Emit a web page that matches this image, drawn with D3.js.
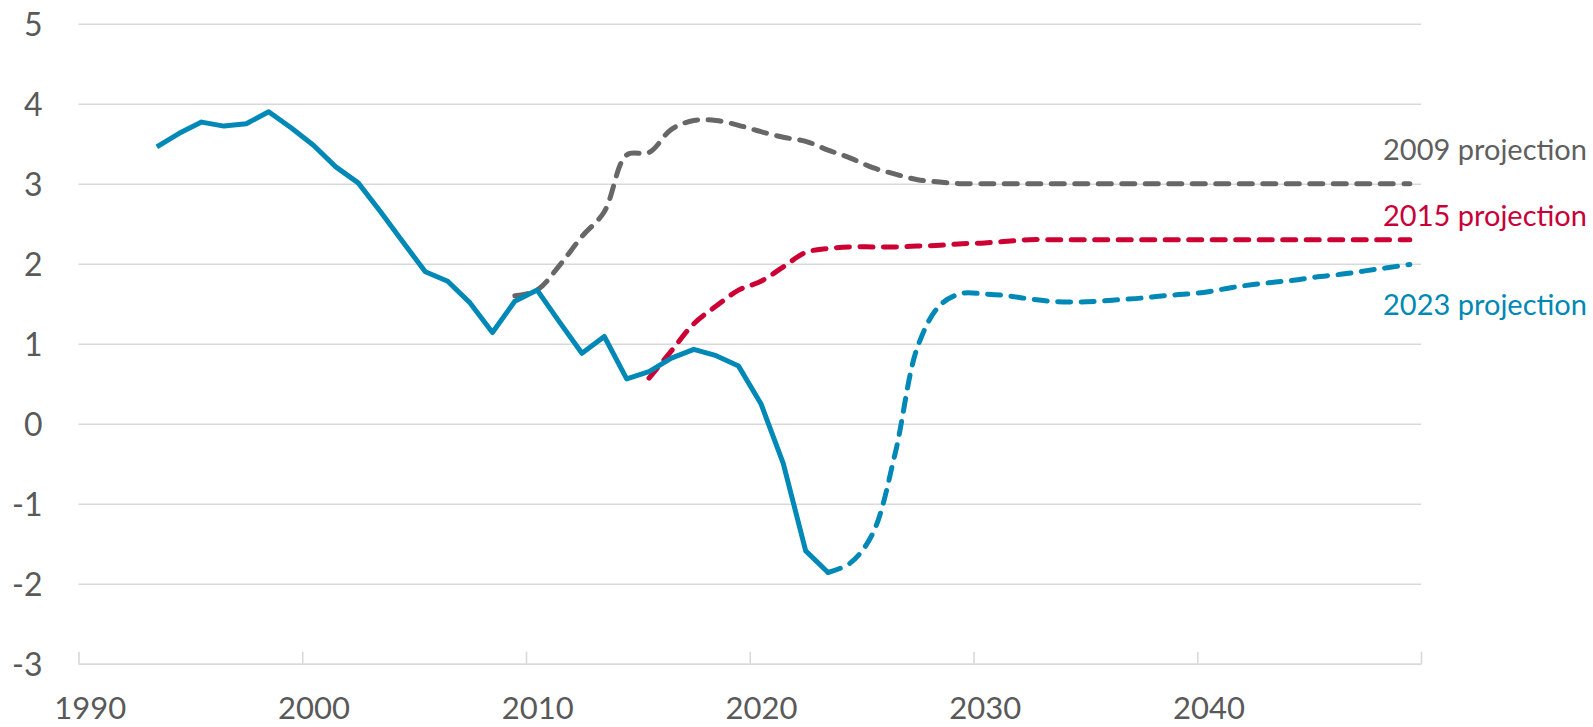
<!DOCTYPE html>
<html lang="en">
<head>
    <meta charset="UTF-8">
    <title>projections</title>
    <script src="https://cdn.jsdelivr.net/npm/d3@7"></script>
    <style>
        body{margin:0;background:#fff;}
        text{font-family:Lato,"Open Sans",sans-serif;}
    </style>
</head>
<body>
    <svg></svg>
    <script>
        //historical series (solid blue)
        var histYears = [1993,1994,1995,1996,1997,1998,1999,2000,2001,2002,2003,2004,2005,2006,2007,2008,
            2009,2010,2011,2012,2013,2014,2015,2016,2017,2018,2019,2020,2021,2022,2023];
        var histValues = [3.46,3.63,3.77,3.72,3.75,3.90,3.70,3.48,3.21,3.01,2.65,2.27,1.90,1.78,1.51,1.14,
            1.53,1.67,1.27,0.88,1.09,0.56,0.65,0.82,0.93,0.85,0.72,0.25,-0.50,-1.59,-1.86];

        //2009 projection (grey dashed)
        var proj2009Years = [2009,2010,2011,2012,2013,2014,2015,2016,2017,2018,2019,2020,2021,2022,2023,2024,
            2025,2026,2027,2028,2029,2030,2031,2032,2033,2034,2035,2036,2037,2038,2039,2040,2041,2042,2043,
            2044,2045,2046,2047,2048,2049];
        var proj2009Values = [1.60,1.67,1.98,2.34,2.65,3.36,3.39,3.68,3.79,3.79,3.73,3.65,3.58,3.53,3.42,3.32,
            3.20,3.12,3.05,3.02,3.00,3.00,3.00,3.00,3.00,3.00,3.00,3.00,3.00,3.00,3.00,3.00,3.00,3.00,3.00,
            3.00,3.00,3.00,3.00,3.00,3.00];

        //2015 projection (red dashed)
        var proj2015Years = [2015,2016,2017,2018,2019,2020,2021,2022,2023,2024,2025,2026,2027,2028,2029,2030,
            2031,2032,2033,2034,2035,2036,2037,2038,2039,2040,2041,2042,2043,2044,2045,2046,2047,2048,2049];
        var proj2015Values = [0.57,0.91,1.25,1.47,1.67,1.78,1.96,2.14,2.19,2.21,2.21,2.21,2.22,2.23,2.25,2.26,
            2.28,2.30,2.30,2.30,2.30,2.30,2.30,2.30,2.30,2.30,2.30,2.30,2.30,2.30,2.30,2.30,2.30,2.30,2.30];

        //2023 projection (blue dashed)
        var proj2023Years = [2023,2024,2025,2026,2027,2028,2029,2030,2031,2032,2033,2034,2035,2036,2037,2038,
            2039,2040,2041,2042,2043,2044,2045,2046,2047,2048,2049];
        var proj2023Values = [-1.86,-1.74,-1.37,-0.37,0.96,1.48,1.63,1.62,1.60,1.56,1.53,1.52,1.53,1.55,1.57,1.60,
            1.62,1.65,1.70,1.74,1.77,1.80,1.84,1.87,1.91,1.95,1.99];

        var xTicks = [1990,2000,2010,2020,2030,2040,2050];
        var xTickLabels = ["1990","2000","2010","2020","2030","2040",""];
        var yTicks = [-3,-2,-1,0,1,2,3,4,5];

        //labels at the right, with the value level their baseline sits on
        var seriesLabels = ["2009 projection","2015 projection","2023 projection"];
        var seriesLabelValues = [3.30,2.47,1.36];

        var width = 1593, height = 727;
        var blue = "#0089b7", grey = "#676767", red = "#cc0033";

        var svg = d3.select("svg")
            .attr("width",width)
            .attr("height",height);

        var x = d3.scaleLinear().domain([1990,2050]).range([78.5,1421]);
        var y = d3.scaleLinear().domain([-3,5]).range([663.7,23.7]);
        //points sit in the middle of their year
        var halfYear = x(1990.5)-x(1990);

        //gridlines + y labels
        var yAxis = svg.append("g")
            .attr("transform","translate("+x(1990)+",0)")
            .call(d3.axisLeft(y).tickValues(yTicks).tickSize(-(x(2050)-x(1990))).tickPadding(36)
                .tickFormat(function(d){return d3.format("d")(d).replace("−","-")}));
        yAxis.select(".domain").remove();
        yAxis.selectAll(".tick line")
            .attr("stroke","#d9d9d9")
            .attr("stroke-width",1.6);
        yAxis.selectAll(".tick text")
            .attr("fill","#595959")
            .attr("font-size",32)
            .attr("dy","0.36em");

        //x axis, ticks point up, labels centred mid-year
        var xAxis = svg.append("g")
            .attr("transform","translate(0,"+y(-3)+")")
            .call(d3.axisBottom(x).tickValues(xTicks).tickSizeInner(-12).tickSizeOuter(0)
                .tickFormat(function(d,i){return xTickLabels[i]}));
        xAxis.select(".domain")
            .attr("stroke","#d9d9d9")
            .attr("stroke-width",1.6);
        xAxis.selectAll(".tick line")
            .attr("stroke","#d9d9d9")
            .attr("stroke-width",1.6);
        xAxis.selectAll(".tick text")
            .attr("fill","#595959")
            .attr("font-size",31)
            .attr("x",halfYear)
            .attr("y",55)
            .attr("dy",0);

        function pts(years,values){
            return years.map(function(yr,i){return [yr+0.5,values[i]]});
        }

        var solid = d3.line()
            .x(function(d){return x(d[0])})
            .y(function(d){return y(d[1])});
        var smooth = d3.line()
            .x(function(d){return x(d[0])})
            .y(function(d){return y(d[1])})
            .curve(d3.curveCatmullRom.alpha(0.5));

        var lines = svg.append("g").attr("fill","none");

        lines.append("path")
            .attr("d",smooth(pts(proj2009Years,proj2009Values)))
            .attr("stroke",grey)
            .attr("stroke-width",5)
            .attr("stroke-dasharray","13,10.5")
            .attr("stroke-linecap","round");

        lines.append("path")
            .attr("d",smooth(pts(proj2015Years,proj2015Values)))
            .attr("stroke",red)
            .attr("stroke-width",5)
            .attr("stroke-dasharray","13,10.5")
            .attr("stroke-linecap","round");

        lines.append("path")
            .attr("d",smooth(pts(proj2023Years,proj2023Values)))
            .attr("stroke",blue)
            .attr("stroke-width",5)
            .attr("stroke-dasharray","13,10.5")
            .attr("stroke-linecap","round");

        lines.append("path")
            .attr("d",solid(pts(histYears,histValues)))
            .attr("stroke",blue)
            .attr("stroke-width",5)
            .attr("stroke-linejoin","round")
            .attr("stroke-linecap","butt");

        //series labels on the right
        var labelColors = ["#5f5f5f","#c8003a","#0088b4"];
        svg.append("g")
            .selectAll("text")
            .data(seriesLabels)
            .enter()
            .append("text")
            .attr("x",1587)
            .attr("y",function(d,i){return y(seriesLabelValues[i])})
            .attr("text-anchor","end")
            .attr("font-size",29)
            .attr("fill",function(d,i){return labelColors[i]})
            .text(function(d){return d});
    </script>
</body>
</html>
